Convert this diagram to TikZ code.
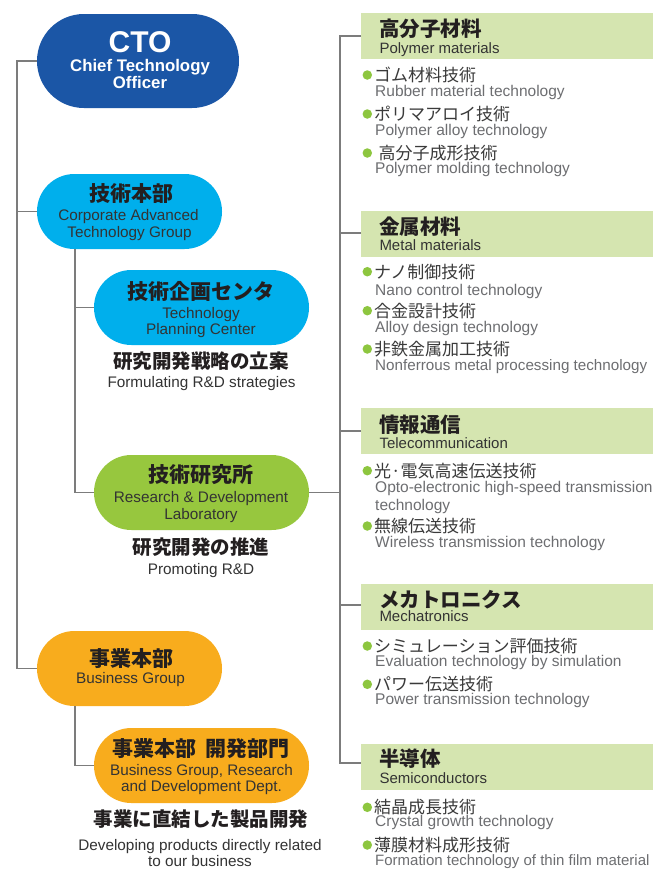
\documentclass[tikz,border=0pt]{standalone}
\usepackage{fontspec}
\setmainfont{Liberation Sans}
\newfontfamily\jp{Noto Sans CJK JP}
\usetikzlibrary{calc}
\definecolor{ctoblue}{HTML}{1B56A6}
\definecolor{pillcyan}{HTML}{00AFEC}
\definecolor{pillgreen}{HTML}{97C73E}
\definecolor{pillorange}{HTML}{F8AC1D}
\definecolor{hdrgreen}{HTML}{D5E5B0}
\definecolor{dotgreen}{HTML}{8DC63F}
\definecolor{linegray}{HTML}{7C7C7C}
\definecolor{darktext}{HTML}{231F20}
\definecolor{entext}{HTML}{333333}
\definecolor{betext}{HTML}{6D6E71}
\definecolor{bjtext}{HTML}{3A3A3A}
\tikzset{
  conn/.style={draw=linegray, line width=1.8pt},
  pillS/.style={rectangle, inner sep=0, minimum width=185pt, minimum height=75pt, rounded corners=37.4pt},
  pillW/.style={rectangle, inner sep=0, minimum width=215pt, minimum height=75pt, rounded corners=37.4pt},
  pillC/.style={rectangle, inner sep=0, minimum width=202pt, minimum height=94pt, rounded corners=46.9pt},
  ctoT/.style={font=\bfseries\fontsize{30}{30}\selectfont, text=white, anchor=base, inner sep=0},
  ctoS/.style={font=\bfseries\fontsize{16.8}{17}\selectfont, text=white, anchor=base, inner sep=0},
  jT/.style={font=\jp\bfseries\fontsize{21}{21}\selectfont, text=darktext, inner sep=0},
  jS/.style={font=\jp\bfseries\fontsize{19.5}{20}\selectfont, text=darktext, inner sep=0},
  enP/.style={font=\fontsize{15.3}{17}\selectfont, text=entext, anchor=base, inner sep=0},
  hdr/.style={rectangle, fill=hdrgreen, inner sep=0, minimum width=292pt, minimum height=46pt, anchor=north west},
  hT/.style={font=\jp\bfseries\fontsize{20.5}{21}\selectfont, text=darktext, anchor=west, inner sep=0},
  hE/.style={font=\fontsize{15}{17}\selectfont, text=entext, anchor=base west, inner sep=0},
  bdot/.style={circle, fill=dotgreen, minimum size=9.5pt, inner sep=0},
  bJ/.style={font=\jp\fontsize{17}{17}\selectfont, text=bjtext, anchor=west, inner sep=0},
  bE/.style={font=\fontsize{15.5}{17}\selectfont, text=betext, anchor=base west, inner sep=0},
}
\begin{document}
\begin{tikzpicture}[x=1pt,y=-1pt]
\path[use as bounding box] (0,0) rectangle (653,886);
\clip (0,0) rectangle (653,886);
\fill[white] (0,0) rectangle (653,886);

% coordinates for trunks
\coordinate (lx) at (17,0);
\coordinate (sx) at (75,0);
\coordinate (rx) at (340,0);

% pills
\node[pillC, fill=ctoblue] (cto) at (138,61) {};
\node[pillS, fill=pillcyan] (corp) at (129.5,211.5) {};
\node[pillW, fill=pillcyan] (plan) at (201.5,307.5) {};
\node[pillW, fill=pillgreen] (lab) at (201.5,492.5) {};
\node[pillS, fill=pillorange] (biz) at (129.5,668.5) {};
\node[pillW, fill=pillorange] (bizdev) at (201.5,765.5) {};

% headers
\node[hdr] (h1) at (361,13) {};
\node[hdr] (h2) at (361,211) {};
\node[hdr] (h3) at (361,408) {};
\node[hdr] (h4) at (361,584) {};
\node[hdr] (h5) at (361,744) {};

% connectors
\draw[conn] (cto.west) -- (cto.west -| lx) |- (biz.west);
\draw[conn] (corp.west) -- (corp.west -| lx);
\draw[conn] (corp.south -| sx) |- (lab.west);
\draw[conn] (plan.west) -- (plan.west -| sx);
\draw[conn] (biz.south -| sx) |- (bizdev.west);
\draw[conn] ([yshift=0.5pt]h1.west) -- ([yshift=0.5pt]h1.west -| rx) |- ([yshift=4pt]h5.west);
\draw[conn] ([yshift=1pt]h2.west) -- ([yshift=1pt]h2.west -| rx);
\draw[conn] (h3.west) -- (h3.west -| rx);
\draw[conn] ([yshift=2.5pt]h4.west) -- ([yshift=2.5pt]h4.west -| rx);
\draw[conn] (lab.east) -- (lab.east -| rx);

% CTO text
\node[ctoT] (ctot) at (140,52) {CTO};
\node[ctoS] (ctos1) at (140,71) {Chief Technology};
\node[ctoS] (ctos2) at (140,88) {Officer};

% corp
\node[jT] (corpj) at (131,194) {技術本部};
\node[enP] (corpe1) at (128.5,220) {Corporate Advanced};
\node[enP] (corpe2) at (129.5,237.5) {Technology Group};

% plan
\node[jT] (planj) at (201,291) {技術企画センタ};
\node[enP] (plane1) at (201,318) {Technology};
\node[enP] (plane2) at (201,334.5) {Planning Center};
\node[jS] (planjs) at (201,361) {研究開発戦略の立案};
\node[enP] (planes) at (201.5,387.7) {Formulating R\&D strategies};

% lab
\node[jT] (labj) at (200.5,475) {技術研究所};
\node[enP] (labe1) at (201,502) {Research \& Development};
\node[enP] (labe2) at (201,519) {Laboratory};
\node[jS] (labjs) at (201,547.5) {研究開発の推進};
\node[enP] (labes) at (201,574) {Promoting R\&D};

% biz
\node[jT] (bizj) at (131,658.5) {事業本部};
\node[enP] (bize) at (130.5,683.3) {Business Group};

% bizdev
\node[jT] (bdj) at (201,748.5) {事業本部\hspace{0.4em}開発部門};
\node[enP] (bde1) at (201.5,775) {Business Group, Research};
\node[enP] (bde2) at (201.5,791.7) {and Development Dept.};
\node[jS] (bdjs) at (201,819.5) {事業に直結した製品開発};
\node[enP] (bdes1) at (200,850) {Developing products directly related};
\node[enP] (bdes2) at (200,866.7) {to our business};

% header texts
\node[hT] (h1j) at (379,28.5) {高分子材料};
\node[hE] (h1e) at (379.3,53.3) {Polymer materials};
\node[hT] (h2j) at (379,226.7) {金属材料};
\node[hE] (h2e) at (379.3,250) {Metal materials};
\node[hT] (h3j) at (379,425) {情報通信};
\node[hE] (h3e) at (379.3,448.3) {Telecommunication};
\node[hT] (h4j) at (379,600) {メカトロニクス};
\node[hE] (h4e) at (379.3,621.7) {Mechatronics};
\node[hT] (h5j) at (379,758.7) {半導体};
\node[hE] (h5e) at (379.3,783.3) {Semiconductors};

% polymer bullets
\node[bdot] (d11) at (367.3,75) {};
\node[bJ] (j11) at (374,75) {ゴム材料技術};
\node[bE] (e11) at (375,96.7) {Rubber material technology};
\node[bdot] (d12) at (367.3,114) {};
\node[bJ] (j12) at (374,114) {ポリマアロイ技術};
\node[bE] (e12) at (375,135) {Polymer alloy technology};
\node[bdot] (d13) at (367.3,153) {};
\node[bJ] (j13) at (378.5,153) {高分子成形技術};
\node[bE] (e13) at (375,173.3) {Polymer molding technology};

% metal bullets
\node[bdot] (d21) at (367.3,271.7) {};
\node[bJ] (j21) at (374,271.7) {ナノ制御技術};
\node[bE] (e21) at (375,295) {Nano control technology};
\node[bdot] (d22) at (367.3,310.7) {};
\node[bJ] (j22) at (374,310.7) {合金設計技術};
\node[bE] (e22) at (375,332.7) {Alloy design technology};
\node[bdot] (d23) at (367.3,349) {};
\node[bJ] (j23) at (374,349) {非鉄金属加工技術};
\node[bE, font=\fontsize{15.2}{17}\selectfont] (e23) at (375,370.7) {Nonferrous metal processing technology};

% telecom bullets
\node[bdot] (d31) at (367.3,470.7) {};
\node[bJ] (j31) at (374,470.7) {光·電気高速伝送技術};
\node[bE] (e31) at (375,492.7) {Opto-electronic high-speed transmission};
\node[bE] (e31b) at (375,510) {technology};
\node[bdot] (d32) at (367.3,526) {};
\node[bJ] (j32) at (374,526) {無線伝送技術};
\node[bE] (e32) at (375,547.7) {Wireless transmission technology};

% mechatronics bullets
\node[bdot] (d41) at (367.3,646) {};
\node[bJ] (j41) at (374,646) {シミュレーション評価技術};
\node[bE] (e41) at (375,666) {Evaluation technology by simulation};
\node[bdot] (d42) at (367.3,684.3) {};
\node[bJ] (j42) at (374,684.3) {パワー伝送技術};
\node[bE] (e42) at (375,704) {Power transmission technology};

% semiconductor bullets
\node[bdot] (d51) at (367.3,807.3) {};
\node[bJ] (j51) at (374,807.3) {結晶成長技術};
\node[bE] (e51) at (375,826.7) {Crystal growth technology};
\node[bdot] (d52) at (367.3,845) {};
\node[bJ] (j52) at (374,845) {薄膜材料成形技術};
\node[bE, font=\fontsize{15}{17}\selectfont] (e52) at (375,865) {Formation technology of thin film material};
\end{tikzpicture}
\end{document}
